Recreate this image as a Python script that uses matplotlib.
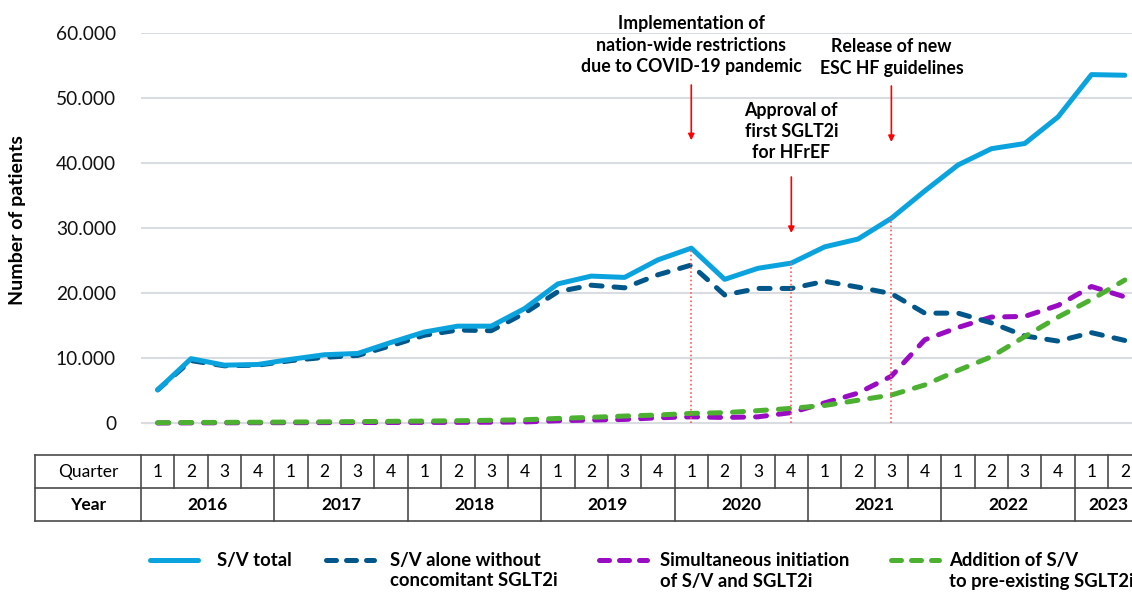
import numpy as np
import matplotlib.pyplot as plt
from matplotlib.lines import Line2D

plt.rcParams['font.family'] = ['Lato', 'DejaVu Sans']

# quarterly values, Q1 2016 .. Q2 2023
quarter_labels = ['1', '2', '3', '4', '1', '2', '3', '4', '1', '2', '3', '4',
                  '1', '2', '3', '4', '1', '2', '3', '4', '1', '2', '3', '4',
                  '1', '2', '3', '4', '1', '2']
year_labels = ['2016', '2017', '2018', '2019', '2020', '2021', '2022', '2023']
quarters_per_year = [4, 4, 4, 4, 4, 4, 4, 2]

sv_total = [5100, 9900, 8900, 9000, 9800, 10500, 10700, 12400, 14000, 14900,
            14900, 17600, 21400, 22600, 22400, 25100, 26900, 22100, 23800, 24600,
            27100, 28300, 31500, 35700, 39700, 42200, 43000, 47100, 53600, 53500]
sv_alone = [5100, 9600, 8800, 8900, 9600, 10100, 10400, 11900, 13500, 14300,
            14200, 16900, 20200, 21200, 20800, 22800, 24300, 19700, 20700, 20700,
            21800, 20900, 19900, 16900, 16900, 15400, 13400, 12600, 13900, 12700]
sv_simultaneous = [0, 20, 30, 40, 50, 60, 70, 80, 90, 100,
                   120, 160, 350, 450, 550, 800, 950, 850, 950, 1600,
                   3100, 4600, 7200, 12800, 14700, 16300, 16400, 18100, 21000, 19400]
sv_addition = [50, 80, 100, 120, 150, 180, 220, 260, 300, 350,
               420, 500, 700, 870, 1070, 1230, 1480, 1590, 1900, 2250,
               2700, 3500, 4300, 5850, 8100, 10200, 13300, 16300, 19000, 22000]

series_labels = ['S/V total', 'S/V alone without\nconcomitant SGLT2i',
                 'Simultaneous initiation\nof S/V and SGLT2i',
                 'Addition of S/V\nto pre-existing SGLT2i']
colors = ['#0BA3DE', '#01578A', '#9A0CC4', '#4CB030']

event_index = [16, 19, 22]
event_text = ['Implementation of\nnation-wide restrictions\ndue to COVID-19 pandemic',
              'Approval of\nfirst SGLT2i\nfor HFrEF',
              'Release of new\nESC HF guidelines']

W, H = 1132, 596
fig = plt.figure(figsize=(W / 100, H / 100), dpi=100)
ax = fig.add_axes([141 / W, (H - 440) / H, 991 / W, 407 / H])

x = np.arange(len(sv_total))
dash = (2.2, 2.4)
ax.plot(x, sv_simultaneous, color=colors[2], lw=3.6, dashes=dash,
        dash_capstyle='round', zorder=2)
ax.plot(x, sv_alone, color=colors[1], lw=3.6, dashes=dash,
        dash_capstyle='round', zorder=3)
ax.plot(x, sv_addition, color=colors[3], lw=3.6, dashes=dash,
        dash_capstyle='round', zorder=4)
ax.plot(x, sv_total, color=colors[0], lw=3.6, solid_capstyle='round',
        solid_joinstyle='round', zorder=5)

ax.set_xlim(-0.5, -0.5 + 991 / 33.35)
ax.set_ylim(-2615, 60000)
yt = np.arange(0, 60001, 10000)
ax.set_yticks(yt)
ax.set_yticklabels([f"{v:,}".replace(',', '.') for v in yt])
ax.tick_params(axis='y', length=0, pad=18, labelsize=13.8, labelcolor='#111111')
ax.set_xticks([])
for s in ax.spines.values():
    s.set_visible(False)
ax.grid(axis='y', color='#D9DDE1', lw=1.5)
ax.set_axisbelow(True)

fig.text(18 / W, 1 - 220 / H, 'Number of patients', rotation=90, ha='center',
         va='center', fontsize=14, fontweight='bold')

# events: dotted drop line, arrow, label
arrow_span = [(52000, 43500), (37850, 29230), (51850, 43230)]
text_y = [58150, 44850, 56230]
for idx, txt, (y0, y1), ty in zip(event_index, event_text, arrow_span, text_y):
    ax.vlines(idx, 0, sv_total[idx], color='#FF5A5A', lw=1.2, linestyles=(0, (1, 1.5)),
              zorder=6)
    ax.annotate('', xy=(idx, y1), xytext=(idx, y0), annotation_clip=False,
                arrowprops=dict(arrowstyle='-|>', color='#FF0000', lw=1.2,
                                mutation_scale=9, shrinkA=0, shrinkB=0))
    ax.text(idx, ty, txt, ha='center', va='center', fontsize=12.8, fontweight='bold',
            linespacing=1.3, clip_on=False)

# table below the axis
trans = ax.get_xaxis_transform()


def ay(py):
    return (440 - py) / 407


tcol = '#4A4A4A'
x_left = -0.5 - (141 - 35) / 33.35
x_right = 30
for py in (455, 488, 521):
    ax.plot([x_left, x_right], [ay(py)] * 2, transform=trans, clip_on=False,
            color=tcol, lw=1.2)
for xv in (x_left, -0.5):
    ax.plot([xv, xv], [ay(455), ay(521)], transform=trans, clip_on=False,
            color=tcol, lw=1.2)
for i, q in enumerate(quarter_labels):
    ax.plot([i + 0.5, i + 0.5], [ay(455), ay(488)], transform=trans, clip_on=False,
            color=tcol, lw=1.2)
    ax.text(i, ay(472), q, transform=trans, ha='center', va='center', fontsize=12.5)
ax.text((x_left - 0.5) / 2, ay(472), 'Quarter', transform=trans, ha='center',
        va='center', fontsize=12.5)
ax.text((x_left - 0.5) / 2, ay(505), 'Year', transform=trans, ha='center',
        va='center', fontsize=12.5, fontweight='bold')
start = 0
for yr, n in zip(year_labels, quarters_per_year):
    ax.plot([start + n - 0.5] * 2, [ay(488), ay(521)], transform=trans, clip_on=False,
            color=tcol, lw=1.2)
    ax.text(start + (n - 1) / 2, ay(505), yr, transform=trans, ha='center',
            va='center', fontsize=12.5, fontweight='bold')
    start += n

# legend
handle_x = [147, 323, 596, 888]
text_x = [217, 390, 660, 949]
for k, (lab, c) in enumerate(zip(series_labels, colors)):
    hx = handle_x[k]
    kw = dict(color=c, lw=3.6, transform=fig.transFigure)
    if k == 0:
        kw['solid_capstyle'] = 'round'
    else:
        kw['dashes'] = (2, 2)
        kw['dash_capstyle'] = 'round'
    fig.add_artist(Line2D([(hx + 3) / W, (hx + 51) / W], [1 - 560 / H] * 2, **kw))
    fig.text(text_x[k] / W, 1 - 552 / H, lab, ha='left', va='top', fontsize=13.3,
             fontweight='bold', linespacing=1.25)

fig.savefig('out.png', dpi=100)
